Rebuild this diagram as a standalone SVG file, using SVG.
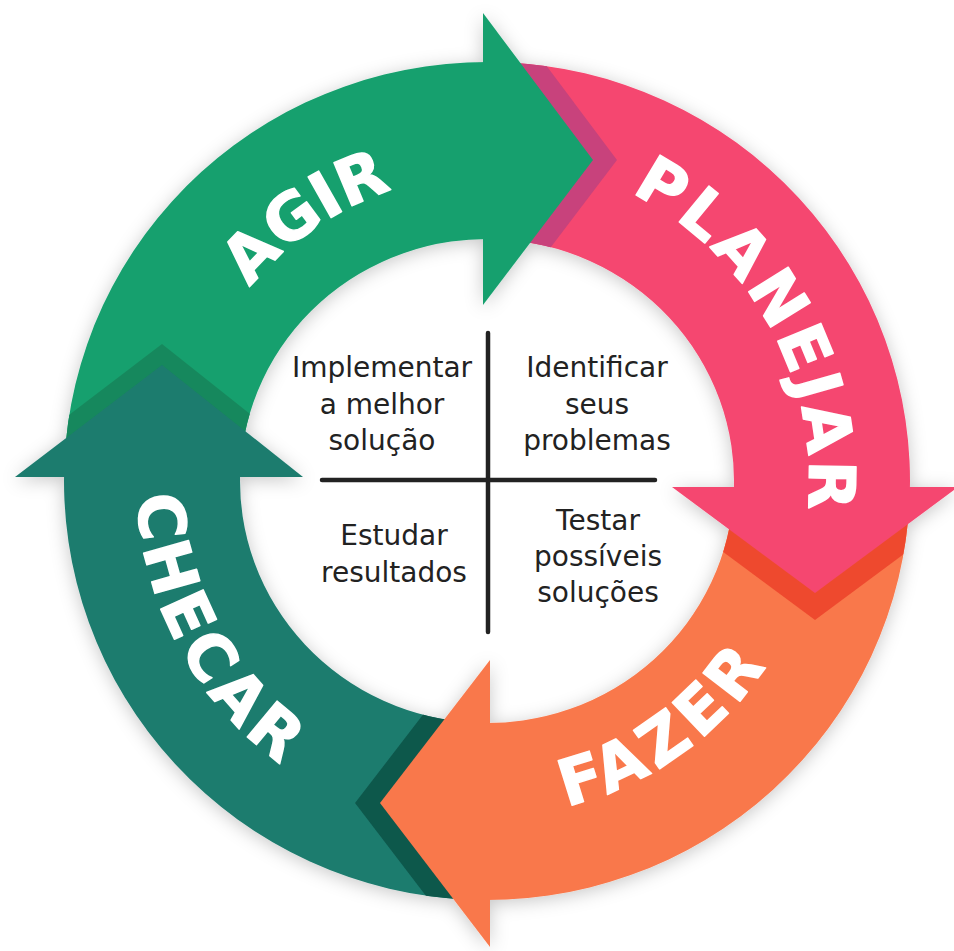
<svg xmlns="http://www.w3.org/2000/svg" xmlns:xlink="http://www.w3.org/1999/xlink" width="954" height="951" viewBox="0 0 954 951">
  <style>
    .label { font-family: "DejaVu Sans", "Liberation Sans", sans-serif; font-weight: bold; font-size: 64px; fill: #ffffff; stroke: #ffffff; stroke-width: 1.4; stroke-linejoin: round; }
    .qt { font-family: "DejaVu Sans", "Liberation Sans", sans-serif; font-size: 28px; fill: #222222; text-anchor: middle; }
    .divider { stroke: #222222; stroke-width: 4.5; stroke-linecap: round; fill: none; }
  </style>
  <defs>
    <filter id="soft" filterUnits="userSpaceOnUse" x="0" y="0" width="954" height="951">
      <feDropShadow dx="0" dy="3" stdDeviation="9" flood-color="#000000" flood-opacity="0.22"/>
    </filter>
    <clipPath id="ringClip">
      <path clip-rule="evenodd" d="M64,481 a423,419 0 1 0 846,0 a423,419 0 1 0 -846,0 Z M240,481 a247,242 0 1 0 494,0 a247,242 0 1 0 -494,0 Z"/>
    </clipPath>
    <polygon id="headTop" points="483,13 593,160 483,305"/>
    <polygon id="headRight" points="672,487 958,487 815,593"/>
    <polygon id="headBottom" points="490,660 380,803 490,947"/>
    <polygon id="headLeft" points="15,477 162,365 303,477"/>
    <path id="pAgir" d="M190.6,557.1 A306,306 0 0 1 665.1,232.2"/>
    <path id="pPlanejar" d="M437.2,162.9 A322,322 0 0 1 729.7,692.7"/>
    <path id="pFazer" d="M297.5,757.2 A335,335 0 0 0 809.7,391.2"/>
    <path id="pChecar" d="M224.5,249.5 A350,350 0 0 0 539.3,827.1"/>
  </defs>

  <rect width="954" height="951" fill="#ffffff"/>

  <g id="cycle" filter="url(#soft)">
    <g id="bands">
      <path id="band-agir" fill="#17a06e" d="M64.26,466.38 A423,419 0 0 1 509.14,62.57 L499.93,239.33 A247,242 0 0 0 240.15,472.55 Z"/>
      <path id="band-planejar" fill="#f5476f" d="M501.76,62.26 A423,419 0 0 1 909.42,502.93 L733.66,493.67 A247,242 0 0 0 495.62,239.15 Z"/>
      <path id="band-fazer" fill="#f9784b" d="M909.74,495.62 A423,419 0 0 1 464.86,899.43 L474.07,722.67 A247,242 0 0 0 733.85,489.45 Z"/>
      <path id="band-checar" fill="#1e7b6e" d="M472.24,899.74 A423,419 0 0 1 64.58,459.07 L240.34,468.33 A247,242 0 0 0 478.38,722.85 Z"/>
    </g>
    <g id="head-shadows" clip-path="url(#ringClip)">
      <use xlink:href="#headTop" transform="translate(24,0)" fill="#c8437b"/>
      <use xlink:href="#headRight" transform="translate(0,27)" fill="#ee4a2f"/>
      <use xlink:href="#headBottom" transform="translate(-25,0)" fill="#0e584c"/>
      <use xlink:href="#headLeft" transform="translate(0,-21)" fill="#13885d"/>
    </g>
    <g id="heads">
      <use id="head-agir" xlink:href="#headTop" fill="#17a06e"/>
      <use id="head-planejar" xlink:href="#headRight" fill="#f5476f"/>
      <use id="head-fazer" xlink:href="#headBottom" fill="#f9784b"/>
      <use id="head-checar" xlink:href="#headLeft" fill="#1e7b6e"/>
    </g>
  </g>

  <g id="labels">
    <text id="label-agir" class="label"><textPath xlink:href="#pAgir" startOffset="50%" text-anchor="middle">AGIR</textPath></text>
    <text id="label-planejar" class="label" letter-spacing="4"><textPath xlink:href="#pPlanejar" startOffset="50%" text-anchor="middle">PLANEJAR</textPath></text>
    <text id="label-fazer" class="label" letter-spacing="6"><textPath xlink:href="#pFazer" startOffset="50%" text-anchor="middle">FAZER</textPath></text>
    <text id="label-checar" class="label" letter-spacing="5"><textPath xlink:href="#pChecar" startOffset="50%" text-anchor="middle">CHECAR</textPath></text>
  </g>

  <g id="divider">
    <line class="divider" x1="488" y1="333" x2="488" y2="632"/>
    <line class="divider" x1="322" y1="480" x2="655" y2="480"/>
  </g>

  <g id="q-agir">
    <text class="qt" x="382" y="377">Implementar</text>
    <text class="qt" x="382" y="414">a melhor</text>
    <text class="qt" x="382" y="450">solução</text>
  </g>
  <g id="q-planejar">
    <text class="qt" x="597" y="377">Identificar</text>
    <text class="qt" x="597" y="414">seus</text>
    <text class="qt" x="597" y="450">problemas</text>
  </g>
  <g id="q-checar">
    <text class="qt" x="394" y="545">Estudar</text>
    <text class="qt" x="394" y="582">resultados</text>
  </g>
  <g id="q-fazer">
    <text class="qt" x="598" y="530">Testar</text>
    <text class="qt" x="598" y="566">possíveis</text>
    <text class="qt" x="598" y="602">soluções</text>
  </g>
</svg>
